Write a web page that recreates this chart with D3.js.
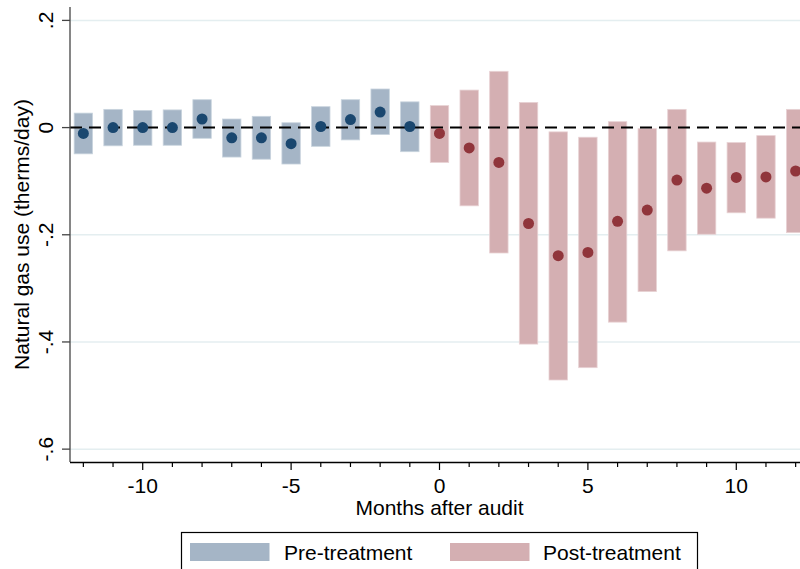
<!DOCTYPE html>
<html>
<head>
  <title>Gas use event study</title>
  <meta charset="UTF-8">
  <script src="https://cdn.jsdelivr.net/npm/d3@7"></script>
  <style>
    body { margin: 0; background: #fff; }
    svg { display: block; overflow: hidden; }
    text { font-family: "Liberation Sans", Arial, sans-serif; fill: #000; }
  </style>
</head>
<body>
  <div id="chart"></div>

  <script>
    // months relative to audit, point estimates and 95% interval ends
    const preMonths = [-12, -11, -10, -9, -8, -7, -6, -5, -4, -3, -2, -1];
    const preEst = [-0.011, 0.000, 0.000, 0.000, 0.016, -0.019, -0.019, -0.030, 0.002, 0.015, 0.029, 0.002];
    const preLo = [-0.049, -0.034, -0.033, -0.033, -0.020, -0.055, -0.059, -0.068, -0.035, -0.023, -0.013, -0.045];
    const preHi = [0.027, 0.034, 0.032, 0.033, 0.052, 0.016, 0.021, 0.009, 0.039, 0.052, 0.072, 0.048];

    const postMonths = [0, 1, 2, 3, 4, 5, 6, 7, 8, 9, 10, 11, 12];
    const postEst = [-0.011, -0.038, -0.065, -0.179, -0.239, -0.233, -0.175, -0.154, -0.098, -0.113, -0.093, -0.092, -0.081];
    const postLo = [-0.065, -0.146, -0.234, -0.404, -0.471, -0.448, -0.363, -0.306, -0.230, -0.199, -0.159, -0.169, -0.196];
    const postHi = [0.041, 0.070, 0.105, 0.047, -0.008, -0.018, 0.011, -0.002, 0.034, -0.027, -0.028, -0.015, 0.034];

    const yTicks = [0.2, 0, -0.2, -0.4, -0.6];
    const yTickLabels = ['.2', '0', '-.2', '-.4', '-.6'];
    const xTicks = [-10, -5, 0, 5, 10];
    const xMinorTicks = d3.range(-12, 13);

    const width = 800, height = 569;
    const fontSize = 21;

    const x = d3.scaleLinear().domain([-12.45, 12.45]).range([70, 809]);
    const y = d3.scaleLinear().domain([-0.624, 0.225]).range([462, 7]);
    const barW = x(0.31) - x(-0.31);

    const svg = d3.select('#chart').append('svg')
      .attr('width', width)
      .attr('height', height);

    // gridlines
    svg.append('g').selectAll('line')
      .data(yTicks.filter(v => v !== 0))
      .enter().append('line')
      .attr('x1', x.range()[0]).attr('x2', x.range()[1])
      .attr('y1', d => y(d)).attr('y2', d => y(d))
      .attr('stroke', '#e4eef0')
      .attr('stroke-width', 1.5);

    function drawSeries(months, est, lo, hi, barColor, edgeColor, dotColor)
    {
      const rows = months.map((m, i) => ({m: m, est: est[i], lo: lo[i], hi: hi[i]}));
      const g = svg.append('g');
      g.selectAll('rect').data(rows).enter().append('rect')
        .attr('x', d => x(d.m) - barW / 2)
        .attr('width', barW)
        .attr('y', d => y(d.hi))
        .attr('height', d => y(d.lo) - y(d.hi))
        .attr('fill', barColor)
        .attr('stroke', edgeColor)
        .attr('stroke-width', 0.8);
      return {rows: rows, dotColor: dotColor};
    }

    const pre = drawSeries(preMonths, preEst, preLo, preHi, '#a5b5c6', '#c9d4de', '#1a476f');
    const post = drawSeries(postMonths, postEst, postLo, postHi, '#d4afb2', '#e8d2d4', '#90353b');

    // zero reference line
    svg.append('line')
      .attr('x1', x.range()[0]).attr('x2', x.range()[1])
      .attr('y1', y(0)).attr('y2', y(0))
      .attr('stroke', '#000')
      .attr('stroke-width', 2)
      .attr('stroke-dasharray', '12,7');

    [pre, post].forEach(s =>
    {
      svg.append('g').selectAll('circle').data(s.rows).enter().append('circle')
        .attr('cx', d => x(d.m))
        .attr('cy', d => y(d.est))
        .attr('r', 5.5)
        .attr('fill', s.dotColor);
    });

    // y axis
    const yAxis = svg.append('g');
    yAxis.append('line')
      .attr('x1', 70).attr('x2', 70)
      .attr('y1', y.range()[1]).attr('y2', y.range()[0])
      .attr('stroke', '#444').attr('stroke-width', 1.3);
    yAxis.selectAll('line.tick').data(yTicks).enter().append('line')
      .attr('class', 'tick')
      .attr('x1', 62).attr('x2', 70)
      .attr('y1', d => y(d)).attr('y2', d => y(d))
      .attr('stroke', '#444').attr('stroke-width', 1.3);
    yAxis.selectAll('text').data(yTicks).enter().append('text')
      .attr('transform', d => `translate(53,${y(d)}) rotate(-90)`)
      .attr('text-anchor', 'middle')
      .style('font-size', fontSize + 'px')
      .text((d, i) => yTickLabels[i]);

    svg.append('text')
      .attr('transform', `translate(28.5,${(y.range()[0] + y.range()[1]) / 2}) rotate(-90)`)
      .attr('text-anchor', 'middle')
      .style('font-size', fontSize + 'px')
      .text('Natural gas use (therms/day)');

    // x axis
    const xAxis = svg.append('g');
    xAxis.append('line')
      .attr('x1', 70).attr('x2', x.range()[1])
      .attr('y1', 462.5).attr('y2', 462.5)
      .attr('stroke', '#000').attr('stroke-width', 1.3);
    xAxis.selectAll('line.minor').data(xMinorTicks).enter().append('line')
      .attr('class', 'minor')
      .attr('x1', d => x(d)).attr('x2', d => x(d))
      .attr('y1', 462.5).attr('y2', d => xTicks.indexOf(d) >= 0 ? 470 : 467)
      .attr('stroke', '#000').attr('stroke-width', 1.2);
    xAxis.selectAll('text').data(xTicks).enter().append('text')
      .attr('x', d => x(d))
      .attr('y', 493)
      .attr('text-anchor', 'middle')
      .style('font-size', fontSize + 'px')
      .text(d => d);

    svg.append('text')
      .attr('x', 439.5)
      .attr('y', 514.5)
      .attr('text-anchor', 'middle')
      .style('font-size', fontSize + 'px')
      .text('Months after audit');

    // legend
    const legend = svg.append('g');
    legend.append('rect')
      .attr('x', 181.5).attr('y', 532.5)
      .attr('width', 516).attr('height', 60)
      .attr('fill', '#fff')
      .attr('stroke', '#000').attr('stroke-width', 1.2);
    const legendItems = [
      {label: 'Pre-treatment', fill: '#a5b5c6', sx: 190, tx: 284},
      {label: 'Post-treatment', fill: '#d4afb2', sx: 450, tx: 543}
    ];
    legend.selectAll('rect.swatch').data(legendItems).enter().append('rect')
      .attr('class', 'swatch')
      .attr('x', d => d.sx).attr('y', 543)
      .attr('width', 79.5).attr('height', 18)
      .attr('fill', d => d.fill);
    legend.selectAll('text').data(legendItems).enter().append('text')
      .attr('x', d => d.tx).attr('y', 560)
      .style('font-size', fontSize + 'px')
      .text(d => d.label);
  </script>
</body>
</html>
